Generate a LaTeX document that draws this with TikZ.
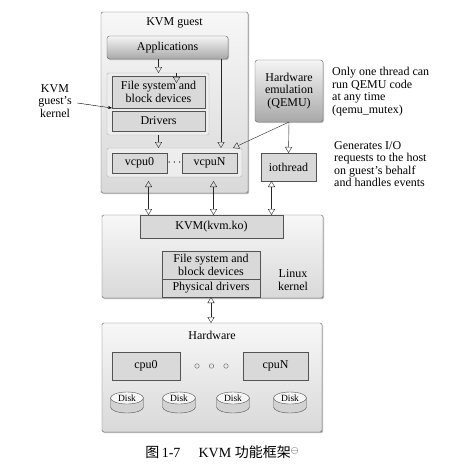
\documentclass[tikz,border=0pt]{standalone}
\usepackage{fontspec}
\setmainfont{Liberation Serif}
\newfontfamily\cjkfont{Noto Sans CJK SC}
\usetikzlibrary{arrows.meta,calc,shadows}

\begin{document}
\begin{tikzpicture}[x=1pt,y=-1pt,
  font=\fontsize{12}{12.5}\selectfont,
  box/.style={draw=gray!75!black,anchor=north west,inner sep=0pt,outer sep=0pt,align=center,rounded corners=1.5pt},
  outer/.style={box,top color=gray!6,bottom color=gray!30,drop shadow={shadow xshift=1.2pt,shadow yshift=-1.2pt,fill=black!45,opacity=.6}},
  shell/.style={box,draw=gray!60,fill=gray!14},
  inner/.style={box,draw=gray!65!black,fill=gray!30,rounded corners=0pt},
  shaded/.style={box,rounded corners=2.5pt,top color=gray!8,bottom color=gray!68,drop shadow={shadow xshift=1pt,shadow yshift=-1pt,fill=black!45,opacity=.5}},
  tri/.style={-{Triangle[open,width=7pt,length=6pt]},draw=gray!30!black},
  dtri/.style={{Triangle[open,width=7pt,length=6pt]}-{Triangle[open,width=7pt,length=6pt]},draw=gray!30!black},
  note/.style={anchor=north west,align=left,inner sep=0pt},
  disk/.style={inner sep=0pt,outer sep=0pt,minimum width=33pt,minimum height=21pt},
  diskline/.style={draw=gray!65!black}]
\useasboundingbox (0,0) rectangle (474,466);
\node[outer,minimum width=147pt,minimum height=181pt] (guest) at (101,12) {};
\node at ($(guest.north)+(0,11)$) {KVM guest};
\node[shaded,minimum width=121pt,minimum height=23pt] (apps) at (107,36) {Applications};
\node[shell,minimum width=102pt,minimum height=62pt] (gkern) at (107,73) {};
\node[inner,minimum width=93pt,minimum height=32pt] (gfs) at (112,76) {File system and\\block devices};
\node[inner,minimum width=93pt,minimum height=20pt] (gdrv) at (112,111) {Drivers};
\node[shell,minimum width=135pt,minimum height=29pt] (vcpus) at (107,148) {};
\node[inner,minimum width=55pt,minimum height=20pt] (vcpu0) at (112,153) {vcpu0};
\node[inner,minimum width=55pt,minimum height=20pt] (vcpuN) at (182,153) {vcpuN};
\node (vdots) at ($(vcpu0.east)!.5!(vcpuN.west)$) {$\cdots$};
\node[shaded,minimum width=68pt,minimum height=62pt] (qemu) at (255,60) {Hardware\\emulation\\(QEMU)};
\node[inner,minimum width=55pt,minimum height=28pt] (ioth) at (261,153) {iothread};
\node[note] (mutex) at (332,67) {Only one thread can\\run QEMU code\\at any time\\(qemu\_mutex)};
\node[note] (events) at (334,141) {Generates I/O\\requests to the host\\on guest's behalf\\and handles events};
\node[align=center] (glbl) at (55,101) {KVM\\guest's\\kernel};
\node[outer,minimum width=221pt,minimum height=83pt] (lk) at (102,215) {};
\node[inner,minimum width=143pt,minimum height=23pt] (kvmko) at (140,215) {KVM(kvm.ko)};
\node[inner,minimum width=98pt,minimum height=28pt] (hfs) at (162,251) {File system and\\block devices};
\node[inner,minimum width=98pt,minimum height=18pt] (hpd) at (162,279) {Physical drivers};
\node[align=center] (lklbl) at (293,280) {Linux\\kernel};
\node[outer,minimum width=220pt,minimum height=109pt] (hw) at (102,323) {};
\node at ($(hw.north)+(0,12)$) {Hardware};
\node[inner,minimum width=68pt,minimum height=28pt] (cpu0) at (112,352) {cpu0};
\node[inner,minimum width=65pt,minimum height=28pt] (cpuN) at (243,352) {cpuN};
\foreach \i in {-1,0,1}
  \node[circle,draw=gray!70!black,inner sep=0pt,minimum size=4.5pt] (dot\i) at ($(cpu0.east)!.5!(cpuN.west)+(\i*14.5,0)$) {};
\foreach \x [count=\k] in {127,179,233,290} {
  \node[disk] (disk\k) at (\x,402.5) {};
  \path (disk\k.north) ++(0,6) coordinate (dt\k);
  \path (disk\k.south) ++(0,-6) coordinate (db\k);
  \draw[diskline,fill=gray!35] ($(dt\k)+(-16.5,0)$) -- ($(db\k)+(-16.5,0)$) arc[start angle=180,end angle=360,x radius=16.5pt,y radius=6pt] -- ($(dt\k)+(16.5,0)$) -- cycle;
  \draw[diskline,fill=gray!8] (dt\k) ellipse[x radius=16.5pt,y radius=6pt];
  \node[font=\fontsize{9.5}{9.5}\selectfont] at (dt\k) {Disk};
}
\draw[tri] (apps.south -| gfs.north) -- (gkern.north -| gfs.north);
\draw[tri] ($(gkern.north -| gfs.north)+(18,0)$) -- ++(0,10);
\draw[tri] (gkern.south -| gfs.south) -- (vcpus.north -| gfs.south);
\draw[tri] ($(apps.south east)+(-7,0)$) coordinate (appsR) -- (appsR |- vcpus.north);
\draw[tri] (qemu.south) -- (ioth.north);
\draw[tri] (qemu.south) -- ($(vcpus.north east)+(-9,0)$);
\draw[-{Stealth[length=4pt,width=3pt]}] ($(glbl.east)+(2,2)$) -- (gfs.south west);
\draw[dtri] ($(vcpu0.south)+(9,8)$) coordinate (v0) -- (v0 |- lk.north);
\draw[dtri] ($(vcpuN.south)+(4,8)$) coordinate (vN) -- (vN |- lk.north);
\draw[dtri] ($(ioth.south)+(-17,0)$) coordinate (io) -- (io |- lk.north);
\draw[dtri] (hpd.south) -- (hpd.south |- hw.north);
\node (cap) at (222,452) {\fontsize{14}{14}\selectfont{\cjkfont 图}\,1-7\hspace{1.3em}KVM\ {\cjkfont 功能框架}\raisebox{.6ex}{\fontsize{10}{10}\selectfont$\ominus$}};
\end{tikzpicture}
\end{document}
